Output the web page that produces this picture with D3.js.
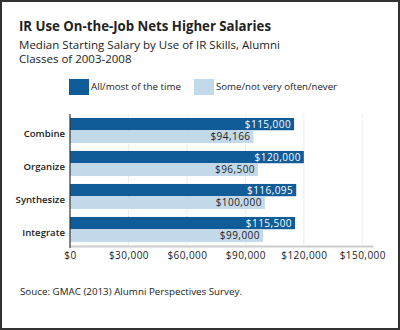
<!DOCTYPE html>
<html><head><meta charset="utf-8">
<script src="https://cdn.jsdelivr.net/npm/d3@7"></script>
<style>
html,body{margin:0;padding:0;background:#fff;}
svg{display:block;font-family:"Open Sans",Lato,sans-serif;}
</style></head>
<body>
<svg id="chart" width="400" height="330"></svg>
<script>
const categories = ["Combine", "Organize", "Synthesize", "Integrate"];
const seriesNames = ["All/most of the time", "Some/not very often/never"];
const allMost = [115000, 120000, 116095, 115500];
const someNever = [94166, 96500, 100000, 99000];
const tickValues = [0, 30000, 60000, 90000, 120000, 150000];
const title = "IR Use On-the-Job Nets Higher Salaries";
const subtitle = ["Median Starting Salary by Use of IR Skills, Alumni", "Classes of 2003-2008"];
const source = "Souce: GMAC (2013) Alumni Perspectives Survey.";

const colors = ["#105c98", "#c2d9e9"];
const svg = d3.select("#chart");

// frame
svg.append("rect").attr("x",1).attr("y",1).attr("width",398).attr("height",328)
  .attr("fill","#fff").attr("stroke","#333").attr("stroke-width",2);

function fitText(sel, w){
  const n = sel.node();
  const len = n.getComputedTextLength();
  if (len > 0) sel.attr("textLength", w).attr("lengthAdjust","spacingAndGlyphs");
}

const t = svg.append("text").attr("x",19).attr("y",31).attr("font-size",14.5)
  .attr("font-weight",700).attr("fill","#222").text(title);
fitText(t, 252);
subtitle.forEach((s,i)=>{
  const st = svg.append("text").attr("x",19).attr("y",49+i*14).attr("font-size",11.5)
    .attr("fill","#222").text(s);
  if(i===0) fitText(st, 261);
});

// legend
const legX = [69, 194];
const legW = [90, 121];
seriesNames.forEach((s,i)=>{
  svg.append("rect").attr("x",legX[i]).attr("y",79).attr("width",20).attr("height",16)
    .attr("fill",colors[i]);
  const lt = svg.append("text").attr("x",legX[i]+22).attr("y",89.5).attr("font-size",9.5)
    .attr("fill","#222").text(s);
  fitText(lt, legW[i]);
});

const x = d3.scaleLinear().domain([0,155500]).range([70,373]);
const y0 = d3.scaleBand().domain(categories).range([114,246]).paddingInner(0.24).paddingOuter(0.12);
const y1 = d3.scaleBand().domain([0,1]).range([0,y0.bandwidth()]).paddingInner(0.04);

// grid
svg.append("g").selectAll("line").data(tickValues.slice(1)).join("line")
  .attr("x1",d=>x(d)).attr("x2",d=>x(d)).attr("y1",114).attr("y2",246)
  .attr("stroke","#ddd").attr("stroke-width",1).attr("stroke-dasharray","1,1");

const rows = categories.map((c,i)=>({c, vals:[allMost[i], someNever[i]]}));
const g = svg.append("g").selectAll("g").data(rows).join("g")
  .attr("transform",d=>`translate(0,${y0(d.c)})`);
g.selectAll("rect").data(d=>d.vals.map((v,k)=>({v,k}))).join("rect")
  .attr("x",x(0)).attr("y",d=>y1(d.k)).attr("width",d=>x(d.v)-x(0)).attr("height",y1.bandwidth())
  .attr("fill",d=>colors[d.k]);
const fmt = v => "$" + d3.format(",")(v);
g.selectAll("text.val").data(d=>d.vals.map((v,k)=>({v,k}))).join("text").attr("class","val")
  .attr("x",d=>x(d.v)-3).attr("y",d=>y1(d.k)+y1.bandwidth()/2).attr("dy","0.36em")
  .attr("text-anchor","end").attr("font-size",10).attr("letter-spacing",0.45)
  .attr("fill",d=>d.k===0?"#fff":"#222").text(d=>fmt(d.v));

// category labels
svg.append("g").selectAll("text").data(categories).join("text")
  .attr("x",65).attr("y",d=>y0(d)+y0.bandwidth()/2+3).attr("dy","0.35em")
  .attr("text-anchor","end").attr("font-size",9.6).attr("font-weight",600).attr("fill","#222")
  .text(d=>d);

// x axis
const xa = svg.append("g").attr("transform","translate(0,246)")
  .call(d3.axisBottom(x).tickValues(tickValues).tickFormat(fmt).tickSize(0).tickPadding(6));
xa.select(".domain").attr("stroke","#ccc").attr("stroke-width",2);
xa.selectAll("text").attr("font-size",10).attr("letter-spacing",0.45)
  .attr("font-family","Open Sans, Lato, sans-serif").attr("fill","#222");

// y axis line
svg.append("line").attr("x1",70).attr("x2",70).attr("y1",114).attr("y2",248)
  .attr("stroke","#333").attr("stroke-width",1.2);

const src = svg.append("text").attr("x",20).attr("y",295).attr("font-size",9.2).attr("fill","#222").text(source);
fitText(src, 222);
</script>
</body></html>
